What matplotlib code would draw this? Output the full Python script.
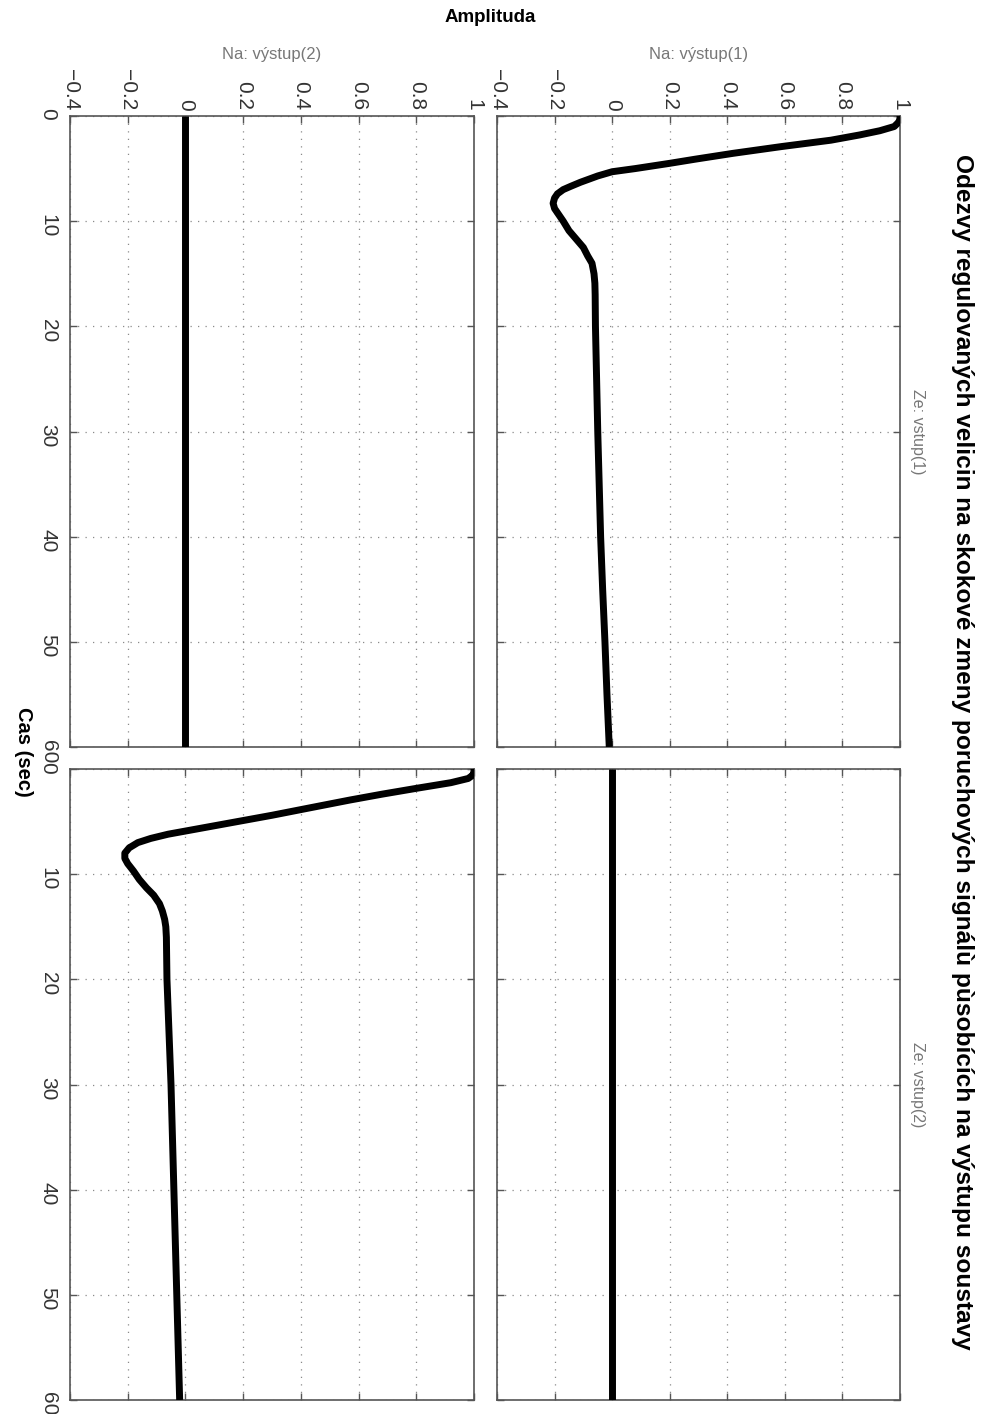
import numpy as np
import matplotlib
matplotlib.use('Agg')
import matplotlib.pyplot as plt

plt.rcParams['font.family'] = ['Liberation Sans', 'DejaVu Sans']

# step response output(1) <- input(1)
time_11 = [0, 0.3, 0.6, 1.0, 1.4, 1.8, 2.3, 2.9, 3.55, 4.1, 4.5, 5.0, 5.3, 5.7, 6.0, 6.3, 6.7, 7.0,
           7.4, 7.8, 8.3, 8.8, 9.2, 10.0, 10.9, 11.7, 12.5, 13.3, 14.0, 15.0, 15.9, 17, 20, 25, 30,
           35, 40, 45, 50, 55, 60]
resp_11 = [1.0, 1.0, 0.995, 0.98, 0.93, 0.86, 0.76, 0.59, 0.42, 0.29, 0.20, 0.08, 0.0, -0.05, -0.08,
           -0.11, -0.145, -0.17, -0.19, -0.20, -0.205, -0.20, -0.19, -0.17, -0.15, -0.125, -0.10,
           -0.085, -0.07, -0.063, -0.06, -0.059, -0.058, -0.054, -0.05, -0.045, -0.04, -0.033,
           -0.025, -0.018, -0.01]

# step response output(2) <- input(2)
time_22 = [0, 0.3, 0.6, 0.9, 1.3, 1.84, 2.4, 2.95, 3.7, 4.4, 5.1, 5.8, 6.2, 6.6, 7.0, 7.5, 8.0,
           8.5, 9.0, 9.7, 10.5, 11.3, 12.0, 12.8, 13.5, 14.3, 15.0, 16, 20, 25, 30, 35, 40, 45,
           50, 55, 60]
resp_22 = [1.0, 1.0, 0.995, 0.98, 0.92, 0.80, 0.68, 0.57, 0.43, 0.30, 0.16, 0.02, -0.06, -0.12,
           -0.165, -0.195, -0.21, -0.21, -0.20, -0.18, -0.16, -0.135, -0.11, -0.09, -0.08, -0.072,
           -0.068, -0.066, -0.064, -0.057, -0.05, -0.045, -0.04, -0.035, -0.03, -0.025, -0.02]

# cross couplings are zero
time_flat = [0, 60]
resp_flat = [0, 0]

amp_ticks = [-0.4, -0.2, 0, 0.2, 0.4, 0.6, 0.8, 1]
amp_labels = ['\u22120.4', '\u22120.2', '0', '0.2', '0.4', '0.6', '0.8', '1']
time_ticks = [0, 10, 20, 30, 40, 50, 60]

col_titles = ['Na: výstup(2)', 'Na: výstup(1)']
row_titles = ['Ze: vstup(1)', 'Ze: vstup(2)']
title = 'Odezvy regulovaných velicin na skokové zmeny poruchových signálù pùsobících na výstupu soustavy'

W, H = 984, 1414
fig = plt.figure(figsize=(W / 100, H / 100), dpi=100)

edge = '#555555'
txt = '#333333'

col_x = [(70, 474), (497, 900)]
row_y = [(116, 747), (769, 1400)]

panels = {
    (0, 0): (time_flat, resp_flat),
    (0, 1): (time_11, resp_11),
    (1, 0): (time_22, resp_22),
    (1, 1): (time_flat, resp_flat),
}

for (r, c), (t, v) in panels.items():
    x0, x1 = col_x[c]
    y0, y1 = row_y[r]
    ax = fig.add_axes([x0 / W, 1 - y1 / H, (x1 - x0) / W, (y1 - y0) / H])
    ax.plot(v, t, color='black', linewidth=5, solid_joinstyle='round', solid_capstyle='butt', zorder=3)
    ax.set_xlim(-0.4, 1)
    ax.set_ylim(60, 0)
    ax.set_xticks(amp_ticks)
    ax.set_yticks(time_ticks)
    ax.grid(True, linestyle=(0, (1, 5)), color='#8a8a8a', linewidth=0.9)
    ax.tick_params(axis='x', direction='in', length=5, width=1, color=edge,
                   top=True, bottom=True, labeltop=(r == 0), labelbottom=False,
                   labelsize=15, labelcolor=txt, pad=4)
    ax.tick_params(axis='y', direction='in', length=5, width=1, color=edge,
                   left=True, right=True, labelleft=(c == 0), labelright=False,
                   labelsize=15, labelcolor=txt, pad=9)
    if r == 0:
        ax.set_xticklabels(amp_labels, rotation=-90)
    if c == 0:
        ax.set_yticklabels([str(k) for k in time_ticks], rotation=-90)
    for s in ax.spines.values():
        s.set_color(edge)
        s.set_linewidth(1.2)

# column / row captions
for c, lab in enumerate(col_titles):
    xc = (col_x[c][0] + col_x[c][1]) / 2
    fig.text(xc / W, 1 - 55 / H, lab, ha='center', va='center', fontsize=12, color='#777777')
for r, lab in enumerate(row_titles):
    yc = (row_y[r][0] + row_y[r][1]) / 2
    fig.text(917 / W, 1 - yc / H, lab, ha='center', va='center', rotation=-90, fontsize=11.5, color='#777777')

fig.text(490 / W, 1 - 18 / H, 'Amplituda', ha='center', va='center', fontsize=13.5, fontweight='bold')
fig.text(23 / W, 1 - 752 / H, 'Cas (sec)', ha='center', va='center', rotation=-90, fontsize=14.5, fontweight='bold')
fig.text(962 / W, 1 - 752 / H, title, ha='center', va='center', rotation=-90, fontsize=17.6, fontweight='bold')

plt.savefig('out.png', dpi=100)
